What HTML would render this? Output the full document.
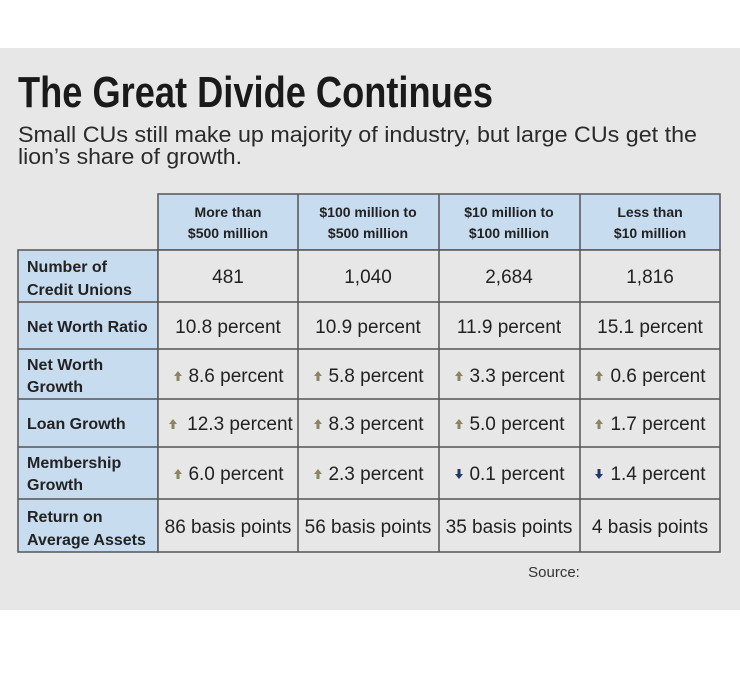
<!DOCTYPE html>
<html><head><style>
html,body{margin:0;padding:0;background:#fff;}
svg{display:block;}
</style></head><body>
<svg width="740" height="688" xmlns="http://www.w3.org/2000/svg" font-family="Liberation Sans, sans-serif">
<rect x="0" y="0" width="740" height="688" fill="#fff"/>
<rect x="0" y="48" width="740" height="562" fill="#e7e7e7"/>
<text x="18" y="107" font-size="44" font-weight="bold" fill="#1a1a1a" textLength="475" lengthAdjust="spacingAndGlyphs">The Great Divide Continues</text>
<text x="18" y="142" font-size="22" fill="#2a2a2a" textLength="679" lengthAdjust="spacingAndGlyphs">Small CUs still make up majority of industry, but large CUs get the</text>
<text x="18" y="164" font-size="22" fill="#2a2a2a" textLength="224" lengthAdjust="spacingAndGlyphs">lion’s share of growth.</text>
<g stroke="#555" stroke-width="1.5">
<rect x="158" y="194" width="562" height="56" fill="#c8dcf0"/>
<rect x="18" y="250" width="140" height="302" fill="#c8dcf0"/>
<rect x="158" y="250" width="562" height="302" fill="#e7e7e7"/>
<line x1="298" y1="194" x2="298" y2="552"/>
<line x1="439" y1="194" x2="439" y2="552"/>
<line x1="580" y1="194" x2="580" y2="552"/>
<line x1="18" y1="302" x2="720" y2="302"/>
<line x1="18" y1="349" x2="720" y2="349"/>
<line x1="18" y1="399" x2="720" y2="399"/>
<line x1="18" y1="447" x2="720" y2="447"/>
<line x1="18" y1="499" x2="720" y2="499"/>
</g>
<g font-size="14" font-weight="bold" fill="#222" text-anchor="middle">
<text x="228" y="217">More than</text><text x="228" y="238">$500 million</text>
<text x="368" y="217">$100 million to</text><text x="368" y="238">$500 million</text>
<text x="509" y="217">$10 million to</text><text x="509" y="238">$100 million</text>
<text x="650" y="217">Less than</text><text x="650" y="238">$10 million</text>
</g>
<g font-size="16" font-weight="bold" fill="#222">
<text x="27" y="272">Number of</text><text x="27" y="295">Credit Unions</text>
<text x="27" y="332">Net Worth Ratio</text>
<text x="27" y="370">Net Worth</text><text x="27" y="392">Growth</text>
<text x="27" y="429">Loan Growth</text>
<text x="27" y="468">Membership</text><text x="27" y="490">Growth</text>
<text x="27" y="522">Return on</text><text x="27" y="545">Average Assets</text>
</g>
<g font-size="19" fill="#222" text-anchor="middle">
<text x="228" y="283">481</text><text x="368" y="283">1,040</text><text x="509" y="283">2,684</text><text x="650" y="283">1,816</text>
<text x="228" y="333">10.8 percent</text><text x="368" y="333">10.9 percent</text><text x="509" y="333">11.9 percent</text><text x="650" y="333">15.1 percent</text>
<text x="236" y="382">8.6 percent</text><text x="376" y="382">5.8 percent</text><text x="517" y="382">3.3 percent</text><text x="658" y="382">0.6 percent</text>
<text x="240" y="430">12.3 percent</text><text x="376" y="430">8.3 percent</text><text x="517" y="430">5.0 percent</text><text x="658" y="430">1.7 percent</text>
<text x="236" y="480">6.0 percent</text><text x="376" y="480">2.3 percent</text><text x="517" y="480">0.1 percent</text><text x="658" y="480">1.4 percent</text>
<text x="228" y="533">86 basis points</text><text x="368" y="533">56 basis points</text><text x="509" y="533">35 basis points</text><text x="650" y="533">4 basis points</text>
</g>
<g fill="#8a8660">
<path d="M178,371 l4,5 h-2.5 v5 h-3 v-5 h-2.5z"/>
<path d="M318,371 l4,5 h-2.5 v5 h-3 v-5 h-2.5z"/>
<path d="M459,371 l4,5 h-2.5 v5 h-3 v-5 h-2.5z"/>
<path d="M599,371 l4,5 h-2.5 v5 h-3 v-5 h-2.5z"/>
<path d="M173,419 l4,5 h-2.5 v5 h-3 v-5 h-2.5z"/>
<path d="M318,419 l4,5 h-2.5 v5 h-3 v-5 h-2.5z"/>
<path d="M459,419 l4,5 h-2.5 v5 h-3 v-5 h-2.5z"/>
<path d="M599,419 l4,5 h-2.5 v5 h-3 v-5 h-2.5z"/>
<path d="M178,469 l4,5 h-2.5 v5 h-3 v-5 h-2.5z"/>
<path d="M318,469 l4,5 h-2.5 v5 h-3 v-5 h-2.5z"/>
</g>
<g fill="#1f3a66">
<path d="M459,479 l4,-5 h-2.5 v-5 h-3 v5 h-2.5z"/>
<path d="M599,479 l4,-5 h-2.5 v-5 h-3 v5 h-2.5z"/>
</g>
<text x="554" y="577" font-size="15" fill="#333" text-anchor="middle">Source:</text>
</svg>
</body></html>
